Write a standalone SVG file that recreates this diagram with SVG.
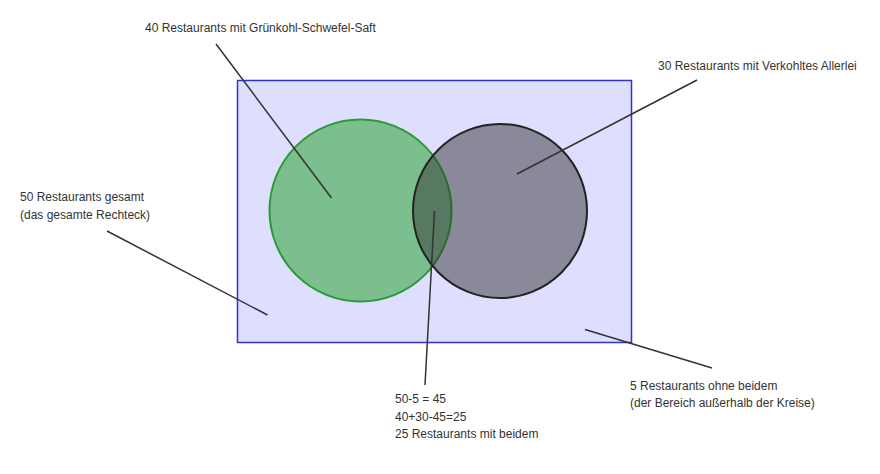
<svg xmlns="http://www.w3.org/2000/svg" width="880" height="474" viewBox="0 0 880 474">
<style>
text{font-family:"Liberation Sans",Arial,sans-serif;font-size:12px;fill:#333}
.lead{stroke:#333;stroke-width:1.5;fill:none}
</style>
<rect width="880" height="474" fill="#fff"/>
<g id="rect-all"><rect x="237.5" y="80.5" width="394" height="262" fill="#dedeff" stroke="#3333cc" stroke-width="1.5"/></g>
<g id="circle-gruenkohl"><circle cx="360.5" cy="210.5" r="91" fill="#009900" fill-opacity="0.44" stroke="#2a9a35" stroke-width="2"/></g>
<g id="circle-allerlei"><circle cx="500" cy="211" r="87" fill="#333333" fill-opacity="0.5" stroke="#222" stroke-width="2"/></g>
<g id="connectors">
<line class="lead" x1="216" y1="44" x2="331.5" y2="198"/>
<line class="lead" x1="697" y1="80" x2="517" y2="174"/>
<line class="lead" x1="107" y1="231" x2="267.5" y2="315"/>
<line class="lead" x1="434.5" y1="211" x2="425" y2="385"/>
<line class="lead" x1="585" y1="329.5" x2="712" y2="368"/>
</g>
<g id="label-gruenkohl"><text x="145" y="32">40 Restaurants mit Grünkohl-Schwefel-Saft</text></g>
<g id="label-allerlei"><text x="658" y="70">30 Restaurants mit Verkohltes Allerlei</text></g>
<g id="label-gesamt"><text x="20" y="200.5">50 Restaurants gesamt</text><text x="20" y="218.5">(das gesamte Rechteck)</text></g>
<g id="label-beide"><text x="395" y="403">50-5 = 45</text><text x="395" y="420.5">40+30-45=25</text><text x="395" y="438">25 Restaurants mit beidem</text></g>
<g id="label-ohne"><text x="630" y="389.5">5 Restaurants ohne beidem</text><text x="630" y="407">(der Bereich außerhalb der Kreise)</text></g>
</svg>
